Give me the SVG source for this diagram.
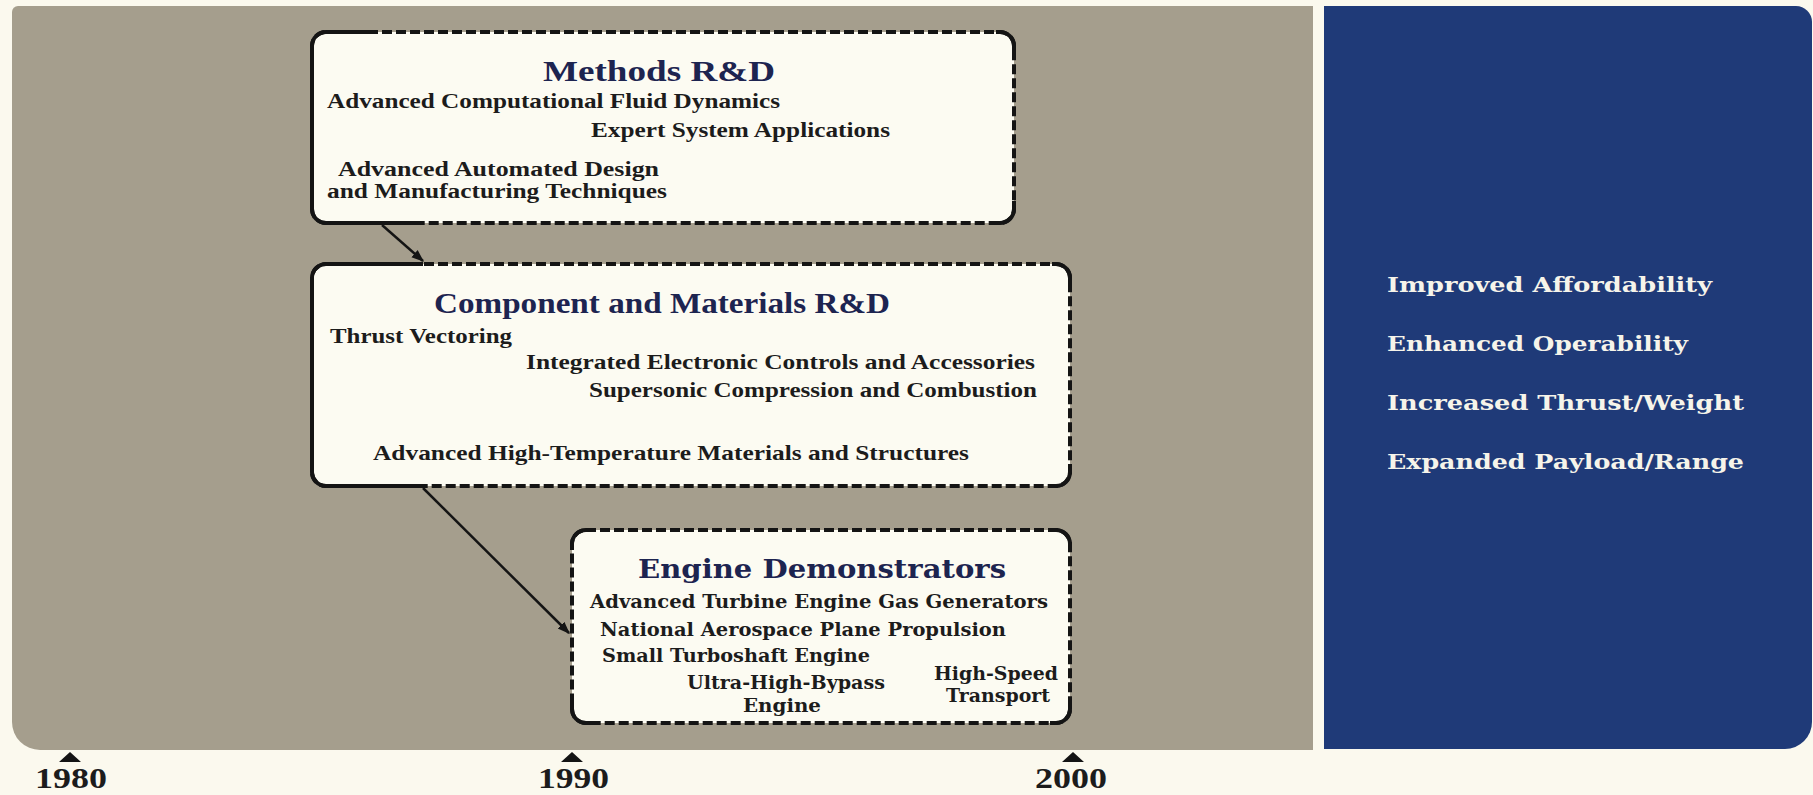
<svg xmlns="http://www.w3.org/2000/svg" width="1813" height="795" viewBox="0 0 1813 795">
<defs>
<style>
.box{fill:#fcfbf2;stroke:#141414;stroke-width:4;stroke-dasharray:10 4}
.solid{fill:none;stroke:#141414;stroke-width:4;stroke-linecap:butt}
.t{font-family:"Liberation Serif","Times New Roman",serif;font-weight:bold;fill:#1c1c1c;font-size:22px}
.ts{font-size:20px}
.ttl{font-family:"Liberation Serif","Times New Roman",serif;font-weight:bold;fill:#1d2450;font-size:29px}
.w{font-family:"DejaVu Serif",serif;font-weight:bold;fill:#1c1c1c;font-size:18px}
.wt{font-family:"DejaVu Serif",serif;font-weight:bold;fill:#1d2450;font-size:26px}
.b{font-family:"DejaVu Serif",serif;font-weight:bold;fill:#f6f4ea;font-size:20px}
.yr{font-family:"Liberation Serif","Times New Roman",serif;font-weight:bold;fill:#1c1c1c;font-size:29px}
.conn{stroke:#141414;stroke-width:2.5;fill:none}
</style>
<marker id="ah" viewBox="0 0 10 10" refX="9" refY="5" markerWidth="5" markerHeight="5" orient="auto" markerUnits="strokeWidth">
<path d="M0,1.2 L10,5 L0,8.8 z" fill="#141414"/>
</marker>
</defs>
<rect x="0" y="0" width="1813" height="795" fill="#fbf9ee"/>
<g id="panel-timeline">
<path d="M18 6 H1313 V750 H40 A28 28 0 0 1 12 722 V12 A6 6 0 0 1 18 6 Z" fill="#a59e8d"/>
</g>
<g id="panel-goals">
<path d="M1324 6 H1796 A16 16 0 0 1 1812 22 V722 A27 27 0 0 1 1785 749 H1324 Z" fill="#1f3a78"/>
<text class="b" x="1387" y="292" textLength="325" lengthAdjust="spacingAndGlyphs">Improved Affordability</text>
<text class="b" x="1387" y="351" textLength="301" lengthAdjust="spacingAndGlyphs">Enhanced Operability</text>
<text class="b" x="1387" y="410" textLength="357" lengthAdjust="spacingAndGlyphs">Increased Thrust/Weight</text>
<text class="b" x="1387" y="469" textLength="357" lengthAdjust="spacingAndGlyphs">Expanded Payload/Range</text>
</g>
<g id="methods">
<rect class="box" x="312" y="32" width="702" height="191" rx="14"/>
<path class="solid" d="M372 32 H326 A14 14 0 0 0 312 46 V209 A14 14 0 0 0 326 223 H423 M996 32 H1000 A14 14 0 0 1 1014 46 V54 M1014 201 V209 A14 14 0 0 1 1000 223 H996"/>
<text class="ttl" x="543" y="81" textLength="232" lengthAdjust="spacingAndGlyphs">Methods R&amp;D</text>
<text class="t" x="327" y="108" textLength="453" lengthAdjust="spacingAndGlyphs">Advanced Computational Fluid Dynamics</text>
<text class="t" x="591" y="137" textLength="299" lengthAdjust="spacingAndGlyphs">Expert System Applications</text>
<text class="t ts" x="338" y="176" textLength="321" lengthAdjust="spacingAndGlyphs">Advanced Automated Design</text>
<text class="t ts" x="327" y="198" textLength="340" lengthAdjust="spacingAndGlyphs">and Manufacturing Techniques</text>
</g>
<g id="component">
<rect class="box" x="312" y="264" width="758" height="222" rx="14"/>
<path class="solid" d="M423 264 H326 A14 14 0 0 0 312 278 V472 A14 14 0 0 0 326 486 H422 M1052 264 H1056 A14 14 0 0 1 1070 278 V286 M1070 464 V472 A14 14 0 0 1 1056 486 H1052"/>
<text class="ttl" x="434" y="313" textLength="456" lengthAdjust="spacingAndGlyphs">Component and Materials R&amp;D</text>
<text class="t" x="330" y="343" textLength="182" lengthAdjust="spacingAndGlyphs">Thrust Vectoring</text>
<text class="t" x="526" y="369" textLength="509" lengthAdjust="spacingAndGlyphs">Integrated Electronic  Controls and Accessories</text>
<text class="t" x="589" y="397" textLength="448" lengthAdjust="spacingAndGlyphs">Supersonic Compression and Combustion</text>
<text class="t" x="373" y="460" textLength="596" lengthAdjust="spacingAndGlyphs">Advanced High-Temperature  Materials and Structures</text>
</g>
<g id="engine">
<rect class="box" x="572" y="530" width="498" height="193" rx="14"/>
<path class="solid" d="M592 530 H586 A14 14 0 0 0 572 544 V550 M1050 530 H1056 A14 14 0 0 1 1070 544 V550 M1070 703 V709 A14 14 0 0 1 1056 723 H1050 M592 723 H586 A14 14 0 0 1 572 709 V703"/>
<text class="wt" x="638" y="578" textLength="368" lengthAdjust="spacingAndGlyphs">Engine Demonstrators</text>
<text class="w" x="590" y="608" textLength="458" lengthAdjust="spacingAndGlyphs">Advanced Turbine Engine Gas Generators</text>
<text class="w" x="600" y="636" textLength="406" lengthAdjust="spacingAndGlyphs">National Aerospace Plane Propulsion</text>
<text class="w" x="602" y="662" textLength="268" lengthAdjust="spacingAndGlyphs">Small Turboshaft Engine</text>
<text class="w" x="687" y="689" textLength="198" lengthAdjust="spacingAndGlyphs">Ultra-High-Bypass</text>
<text class="w" x="743" y="712" textLength="78" lengthAdjust="spacingAndGlyphs">Engine</text>
<text class="w" x="934" y="680" textLength="124" lengthAdjust="spacingAndGlyphs">High-Speed</text>
<text class="w" x="946" y="702" textLength="104" lengthAdjust="spacingAndGlyphs">Transport</text>
</g>
<g id="connectors">
<line class="conn" x1="382" y1="225" x2="423" y2="261" marker-end="url(#ah)"/>
<line class="conn" x1="423" y1="488" x2="569" y2="633" marker-end="url(#ah)"/>
</g>
<g id="timeline">
<path d="M59 762 L70 752 L81 762 Z M561 762 L572 752 L583 762 Z M1062 762 L1073 752 L1084 762 Z" fill="#141414"/>
<text class="yr" x="35" y="788" textLength="72" lengthAdjust="spacingAndGlyphs">1980</text>
<text class="yr" x="538" y="788" textLength="71" lengthAdjust="spacingAndGlyphs">1990</text>
<text class="yr" x="1035" y="788" textLength="72" lengthAdjust="spacingAndGlyphs">2000</text>
</g>
</svg>
